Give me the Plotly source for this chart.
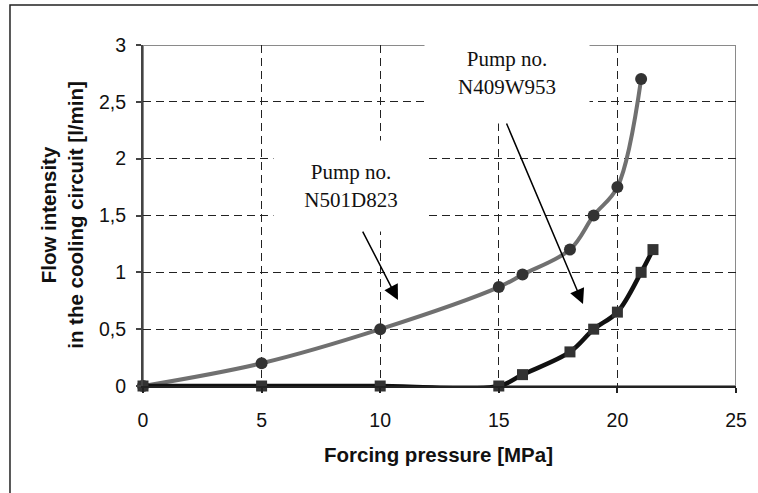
import plotly.graph_objects as go

# Data
pressure_n501 = [0, 5, 10, 15, 16, 18, 19, 20, 21]
flow_n501 = [0, 0.2, 0.5, 0.87, 0.98, 1.2, 1.5, 1.75, 2.7]

pressure_n409 = [0, 5, 10, 15, 16, 18, 19, 20, 21, 21.5]
flow_n409 = [0, 0, 0, 0, 0.1, 0.3, 0.5, 0.65, 1.0, 1.2]

x_tickvals = [0, 5, 10, 15, 20, 25]
x_ticktext = ["0", "5", "10", "15", "20", "25"]
y_tickvals = [0, 0.5, 1, 1.5, 2, 2.5, 3]
y_ticktext = ["0", "0,5", "1", "1,5", "2", "2,5", "3"]

label_n501 = "Pump no.<br>N501D823"
label_n409 = "Pump no.<br>N409W953"
x_title = "Forcing pressure [MPa]"
y_title_lines = ["Flow intensity", "in the cooling circuit [l/min]"]

fig = go.Figure()

fig.add_trace(go.Scatter(
    x=pressure_n501, y=flow_n501, mode="lines+markers",
    line=dict(color="#707070", width=4, shape="spline"),
    marker=dict(symbol="circle", size=12, color="#333333"),
    cliponaxis=False, showlegend=False, name="N501D823"))

fig.add_trace(go.Scatter(
    x=pressure_n409, y=flow_n409, mode="lines+markers",
    line=dict(color="#111111", width=4.5, shape="spline"),
    marker=dict(symbol="square", size=11, color="#333333"),
    cliponaxis=False, showlegend=False, name="N409W953"))

# plot-area frame (top and right in grey)
fig.add_shape(type="rect", xref="x", yref="y", x0=0, x1=25, y0=0, y1=3,
              line=dict(color="#8a8a8a", width=2), layer="below")

# outer chart border
fig.add_shape(type="rect", xref="paper", yref="paper",
              x0=-0.2243, x1=1.2, y0=-0.5, y1=1.1173,
              line=dict(color="#222222", width=1.5), layer="below")

label_font = dict(family="Liberation Serif", size=21, color="#111111")

fig.add_annotation(x=8.77, y=1.759, xref="x", yref="y", text=label_n501,
                   showarrow=False, bgcolor="white", width=152, height=88,
                   font=label_font, xanchor="center", yanchor="middle")
fig.add_annotation(x=15.35, y=2.75, xref="x", yref="y", text=label_n409,
                   showarrow=False, bgcolor="white", width=162, height=98,
                   font=label_font, xanchor="center", yanchor="middle")

# arrows
fig.add_annotation(x=10.75, y=0.756, ax=9.23, ay=1.372, xref="x", yref="y",
                   axref="x", ayref="y", text="", showarrow=True,
                   arrowhead=2, arrowsize=2.0, arrowwidth=1.5, arrowcolor="black",
                   standoff=0, startstandoff=0)
fig.add_annotation(x=18.55, y=0.721, ax=15.30, ay=2.322, xref="x", yref="y",
                   axref="x", ayref="y", text="", showarrow=True,
                   arrowhead=2, arrowsize=2.0, arrowwidth=1.5, arrowcolor="black",
                   standoff=0, startstandoff=0)

title_font = dict(family="Liberation Sans", size=20.5, color="#111111")
fig.add_annotation(x=0.499, y=-0.2, xref="paper", yref="paper", text="<b>" + x_title + "</b>",
                   showarrow=False, font=title_font, xanchor="center", yanchor="middle")
fig.add_annotation(x=-0.1366, y=0.502, xref="paper", yref="paper",
                   text="<br>".join("<b>" + s + "</b>" for s in y_title_lines),
                   showarrow=False, font=title_font, textangle=-90,
                   xanchor="center", yanchor="middle")

tick_font = dict(family="Liberation Sans", size=19.5, color="#111111")

fig.update_xaxes(range=[0, 25], tickvals=x_tickvals, ticktext=x_ticktext,
                 showgrid=True, gridcolor="#222222", gridwidth=1, griddash="8px,5px",
                 showline=True, linecolor="#222222", linewidth=1.5,
                 ticks="outside", ticklen=5, tickcolor="#222222", tickwidth=1.5,
                 zeroline=False, tickfont=tick_font, ticklabelstandoff=11)
fig.update_yaxes(range=[0, 3], tickvals=y_tickvals, ticktext=y_ticktext,
                 showgrid=True, gridcolor="#222222", gridwidth=1, griddash="8px,5px",
                 showline=True, linecolor="#444444", linewidth=2,
                 ticks="outside", ticklen=5, tickcolor="#444444", tickwidth=1.5,
                 zeroline=False, tickfont=tick_font, ticklabelstandoff=6)

fig.update_layout(width=758, height=493,
                  margin=dict(l=143, r=22, t=45, b=107),
                  plot_bgcolor="white", paper_bgcolor="white",
                  showlegend=False)

fig.write_html("out.html", config={"displayModeBar": False},
               post_script="document.body.style.margin='0px';document.body.style.overflow='hidden';")
